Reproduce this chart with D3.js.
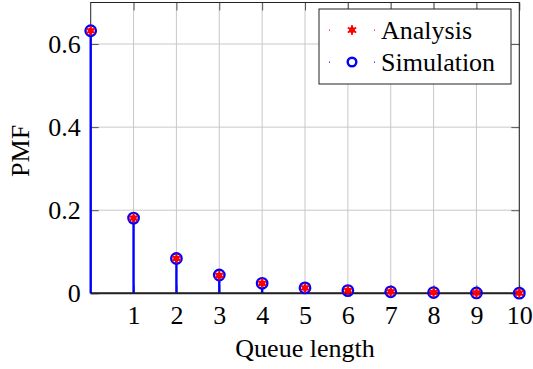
<!DOCTYPE html>
<html>
<head>
<meta charset="utf-8">
<script src="https://cdn.jsdelivr.net/npm/d3@7"></script>
<style>
  html, body { margin: 0; padding: 0; background: #fff; }
  svg { display: block; }
  text { font-family: "Liberation Serif", "Times New Roman", serif; fill: #000; }
</style>
</head>
<body>
<svg id="chart" width="533" height="369"></svg>
<script>
// Queue-length distribution: analytical PMF vs. simulated PMF
const queueLength = [0, 1, 2, 3, 4, 5, 6, 7, 8, 9, 10];
const analysis    = [0.632, 0.181, 0.084, 0.043, 0.024, 0.013, 0.0065, 0.0035, 0.0018, 0.0009, 0.0005];
const simulation  = [0.632, 0.181, 0.084, 0.044, 0.024, 0.013, 0.0065, 0.0035, 0.0018, 0.0009, 0.0004];
const xTicks = [1, 2, 3, 4, 5, 6, 7, 8, 9, 10];
const yTicks = [0, 0.2, 0.4, 0.6];
const seriesNames = ["Analysis", "Simulation"];

const svg = d3.select("#chart");
const plot = { left: 90.7, right: 519.3, top: 2.5, bottom: 293.3 };
const fontSize = 26;
const serif = '"Liberation Serif", "Times New Roman", serif';

const x = d3.scaleLinear().domain([0, 10]).range([plot.left, plot.right]);
const y = d3.scaleLinear().domain([0, 0.7]).range([plot.bottom, plot.top]);

// grid
const grid = svg.append("g").attr("stroke", "#c8c8c8").attr("stroke-width", 1);
grid.selectAll("line.v").data(xTicks).join("line")
  .attr("x1", d => x(d)).attr("x2", d => x(d))
  .attr("y1", plot.top).attr("y2", plot.bottom);
grid.selectAll("line.h").data(yTicks.filter(d => d > 0)).join("line")
  .attr("x1", plot.left).attr("x2", plot.right)
  .attr("y1", d => y(d)).attr("y2", d => y(d));

// axes (ticks inward, no domain path; frame drawn separately)
const tickLen = 8;
const xAxisBottom = d3.axisBottom(x).tickValues(xTicks).tickSize(-tickLen).tickPadding(12)
  .tickFormat(d3.format("d"));
const xAxisTop = d3.axisTop(x).tickValues(xTicks).tickSize(-tickLen).tickFormat("");
const yAxisLeft = d3.axisLeft(y).tickValues(yTicks).tickSize(-tickLen).tickPadding(10)
  .tickFormat(d => d === 0 ? "0" : d3.format(".1f")(d));
const yAxisRight = d3.axisRight(y).tickValues(yTicks).tickSize(-tickLen).tickFormat("");

function styleAxis(g) {
  g.attr("font-family", serif).attr("font-size", fontSize);
  g.select(".domain").remove();
  g.selectAll(".tick line").attr("stroke", "#555").attr("stroke-width", 1);
  g.selectAll(".tick text").style("font-family", serif)
    .style("font-size", fontSize + "px").attr("fill", "#000");
}
svg.append("g").attr("transform", `translate(0,${plot.bottom})`).call(xAxisBottom).call(styleAxis)
  .selectAll(".tick text").attr("dy", "0.71em");
svg.append("g").attr("transform", `translate(0,${plot.top})`).call(xAxisTop).call(styleAxis);
svg.append("g").attr("transform", `translate(${plot.left},0)`).call(yAxisLeft).call(styleAxis);
svg.append("g").attr("transform", `translate(${plot.right},0)`).call(yAxisRight).call(styleAxis);

// frame
svg.append("rect")
  .attr("x", plot.left).attr("y", plot.top)
  .attr("width", plot.right - plot.left).attr("height", plot.bottom - plot.top)
  .attr("fill", "none").attr("stroke", "#222").attr("stroke-width", 1);

// stems of the simulated PMF
svg.append("g").selectAll("line").data(queueLength).join("line")
  .attr("x1", d => x(d)).attr("x2", d => x(d))
  .attr("y1", y(0)).attr("y2", (d, i) => y(simulation[i]))
  .attr("stroke", "#0000ff").attr("stroke-width", 2.4);

// bottom axis line, heavier
svg.append("line")
  .attr("x1", plot.left).attr("x2", plot.right)
  .attr("y1", plot.bottom).attr("y2", plot.bottom)
  .attr("stroke", "#222").attr("stroke-width", 2);

// marker helpers
function circleMarker(g, cx, cy, r) {
  g.append("circle").attr("cx", cx).attr("cy", cy).attr("r", r)
    .attr("fill", "none").attr("stroke", "#0000ff").attr("stroke-width", 2.4);
}
function asteriskMarker(g, cx, cy) {
  const r = 4;
  g.append("circle").attr("cx", cx).attr("cy", cy).attr("r", 3).attr("fill", "red");
  [90, 30, 150].forEach(a => {
    const rad = a * Math.PI / 180;
    g.append("line")
      .attr("x1", cx - r * Math.cos(rad)).attr("y1", cy - r * Math.sin(rad))
      .attr("x2", cx + r * Math.cos(rad)).attr("y2", cy + r * Math.sin(rad))
      .attr("stroke", "red").attr("stroke-width", 2).attr("stroke-linecap", "round");
  });
}

const marks = svg.append("g");
queueLength.forEach((q, i) => circleMarker(marks, x(q), y(simulation[i]), 5.2));
queueLength.forEach((q, i) => asteriskMarker(marks, x(q), y(analysis[i])));

// axis labels
svg.append("text").attr("x", (plot.left + plot.right) / 2).attr("y", 357)
  .attr("text-anchor", "middle").style("font-size", fontSize + "px").text("Queue length");
svg.append("text").attr("transform", `translate(29,${(plot.top + plot.bottom) / 2 + 3}) rotate(-90)`)
  .attr("text-anchor", "middle").style("font-size", fontSize + "px").text("PMF");

// legend
const legend = svg.append("g");
legend.append("rect").attr("x", 319).attr("y", 9).attr("width", 192).attr("height", 75)
  .attr("fill", "#fff").attr("stroke", "#222").attr("stroke-width", 1);
const rows = [
  { name: seriesNames[0], color: "red", cy: 30, draw: (g, cx, cy) => asteriskMarker(g, cx, cy) },
  { name: seriesNames[1], color: "#0000ff", cy: 62, draw: (g, cx, cy) => circleMarker(g, cx, cy, 4.3) }
];
rows.forEach(r => {
  [329, 374].forEach(px => legend.append("rect").attr("x", px).attr("y", r.cy - 0.5)
    .attr("width", 1).attr("height", 1.5).attr("fill", r.color).attr("opacity", 0.7));
  r.draw(legend, 352, r.cy);
  legend.append("text").attr("x", 381).attr("y", r.cy + 8.5)
    .style("font-size", fontSize + "px").text(r.name);
});
</script>
</body>
</html>
